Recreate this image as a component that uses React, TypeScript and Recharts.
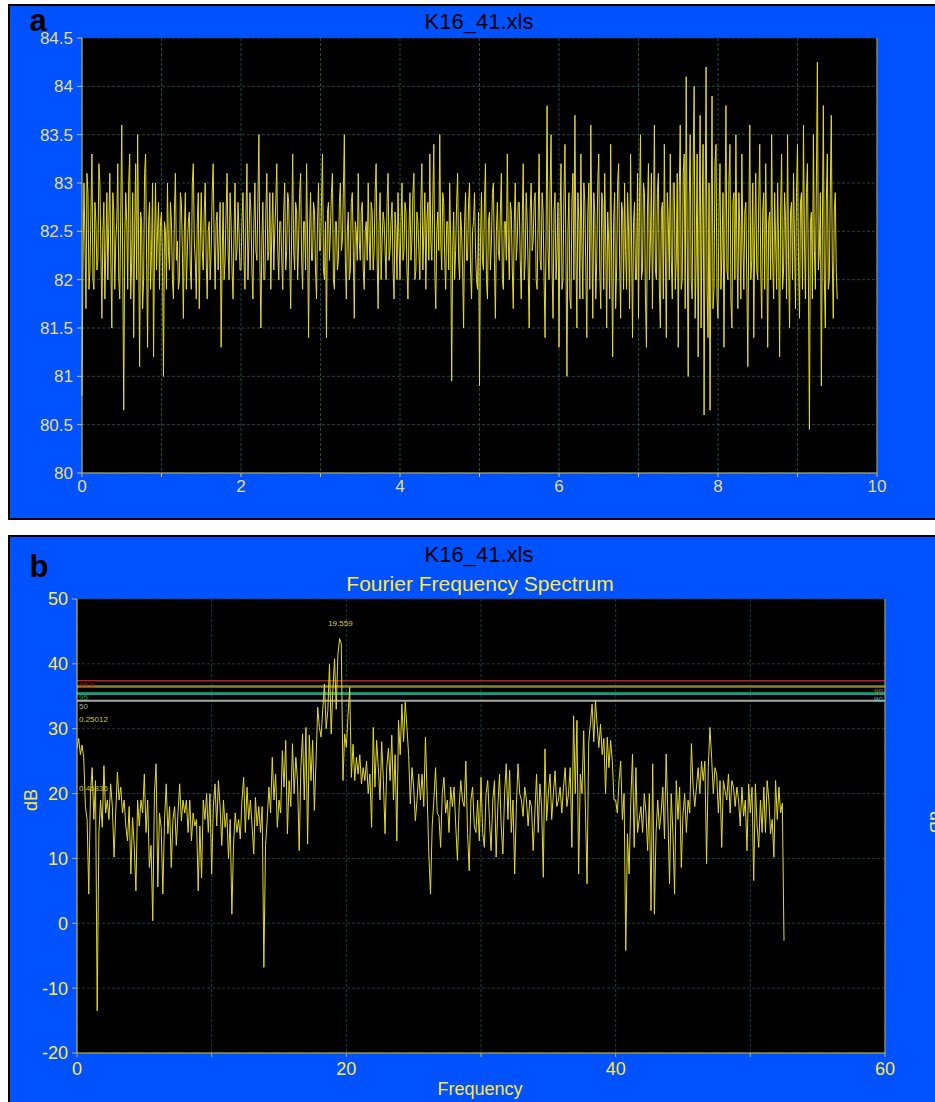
import { LineChart, Line, XAxis, YAxis, CartesianGrid, ReferenceLine, ReferenceDot } from 'recharts';

const FONT = '"Liberation Sans", Arial, sans-serif';
const BLUE = '#0052ff';

// panel a: time series, one sample every 0.0125 s (40 per row = 0.5 s)
const TIME_STEP = 0.0125;
const TIME_VALUES = [
  80.8, 82.2, 83.0, 82.4, 81.7, 83.1, 82.9, 81.9, 82.1, 82.7, 83.3, 82.0, 81.9, 82.8, 82.6, 82.1, 82.2, 83.2, 83.0, 82.3, 81.6, 82.5, 82.8, 81.8, 82.3, 82.9, 82.0, 82.6, 83.1, 82.2, 81.5, 82.9, 82.7, 81.9, 82.4, 82.6, 83.2, 82.0, 81.8, 82.7,
  83.6, 82.1, 80.65, 82.4, 82.9, 82.6, 81.9, 83.0, 83.3, 81.8, 82.2, 82.9, 81.4, 82.5, 83.2, 82.0, 83.5, 82.3, 81.1, 82.7, 82.6, 81.7, 82.0, 83.1, 83.3, 82.2, 81.3, 82.6, 82.8, 81.9, 82.3, 83.0, 81.2, 82.4, 83.0, 82.1, 82.5, 82.8, 81.9, 82.6,
  82.7, 82.2, 81.0, 82.6, 82.5, 81.9, 83.0, 82.3, 82.1, 82.8, 82.6, 82.0, 81.8, 82.7, 83.1, 82.2, 82.4, 81.9, 82.0, 82.9, 82.8, 82.3, 81.6, 82.5, 82.9, 81.9, 82.3, 82.6, 82.7, 82.1, 81.9, 83.0, 83.2, 82.4, 82.2, 81.8, 82.6, 82.9, 81.7, 82.4,
  82.9, 82.3, 82.1, 82.7, 83.0, 82.2, 81.8, 82.5, 82.6, 82.0, 82.3, 82.9, 83.2, 82.4, 81.9, 82.6, 82.7, 82.1, 82.4, 82.8, 81.3, 82.2, 82.8, 82.0, 82.2, 82.7, 83.1, 82.3, 82.0, 82.9, 82.6, 82.1, 81.8, 82.5, 83.0, 82.2, 82.3, 82.8, 82.5, 82.1,
  82.1, 82.6, 82.9, 82.2, 81.9, 82.7, 83.2, 82.0, 82.4, 82.9, 82.7, 82.1, 81.8, 82.6, 83.0, 82.3, 82.2, 82.8, 83.5, 82.2, 81.5, 82.4, 82.8, 82.0, 82.0, 82.7, 83.1, 82.2, 82.3, 82.9, 81.9, 82.5, 82.9, 82.1, 82.5, 82.8, 83.2, 82.3, 82.0, 82.6,
  82.6, 82.2, 81.9, 82.7, 83.0, 82.1, 82.3, 82.9, 82.8, 82.2, 81.7, 82.5, 83.3, 82.3, 82.1, 82.8, 82.7, 82.0, 82.4, 82.9, 83.1, 82.2, 81.9, 82.6, 82.6, 82.1, 83.2, 82.4, 81.4, 82.5, 82.9, 82.2, 82.2, 82.8, 82.7, 82.1, 81.8, 82.6, 83.0, 82.3,
  82.3, 82.8, 83.3, 82.1, 82.0, 82.6, 81.4, 82.7, 82.8, 82.2, 82.5, 82.9, 83.1, 82.0, 81.9, 82.6, 82.6, 82.1, 82.2, 82.8, 83.0, 82.3, 82.4, 82.9, 83.5, 82.2, 81.8, 82.5, 82.7, 82.0, 82.1, 82.8, 82.9, 82.3, 81.6, 82.6, 82.5, 82.2, 83.1, 82.4,
  82.2, 82.7, 82.8, 82.1, 81.9, 82.5, 82.6, 82.2, 83.0, 82.4, 82.1, 82.8, 82.7, 82.1, 82.3, 82.9, 83.2, 82.2, 81.7, 82.6, 82.9, 82.0, 82.4, 82.7, 82.6, 82.3, 82.0, 82.8, 83.1, 82.2, 82.3, 82.6, 82.8, 82.1, 81.8, 82.7, 82.5, 82.0, 82.9, 82.4,
  82.0, 82.6, 83.0, 82.2, 82.3, 82.8, 82.7, 82.1, 81.8, 82.5, 82.9, 82.2, 82.4, 82.9, 83.1, 82.0, 82.1, 82.7, 82.6, 82.3, 82.0, 82.8, 83.2, 82.1, 82.5, 82.9, 81.9, 82.6, 82.8, 82.2, 83.3, 82.4, 82.2, 82.8, 83.4, 82.1, 81.7, 82.5, 82.7, 82.3,
  83.5, 82.4, 82.1, 82.9, 82.8, 82.2, 81.9, 82.6, 82.6, 82.1, 83.0, 82.4, 80.95, 82.3, 82.7, 82.0, 82.3, 82.8, 83.1, 82.2, 82.0, 82.7, 82.5, 82.1, 81.5, 82.6, 82.9, 82.2, 82.2, 82.8, 83.0, 82.1, 81.8, 82.5, 82.6, 82.9, 82.3, 82.0, 81.9, 82.7,
  80.9, 82.4, 82.9, 82.2, 82.1, 82.8, 83.2, 82.0, 81.8, 82.6, 82.7, 82.1, 82.4, 82.9, 83.0, 82.2, 81.6, 82.5, 82.8, 82.3, 82.2, 82.7, 83.1, 82.0, 81.9, 82.6, 82.6, 82.2, 83.3, 82.4, 82.0, 82.8, 82.7, 82.1, 81.7, 82.6, 83.0, 82.2, 82.4, 82.8,
  82.8, 82.2, 81.8, 82.6, 83.2, 82.0, 82.2, 82.9, 82.6, 82.1, 81.5, 82.7, 83.0, 82.3, 82.4, 82.8, 82.9, 82.0, 81.9, 82.6, 83.3, 82.2, 82.1, 82.9, 82.7, 82.0, 81.4, 82.5, 83.8, 82.3, 82.0, 82.9, 83.5, 82.1, 81.6, 82.7, 82.9, 82.0, 82.3, 82.8,
  81.3, 82.6, 83.2, 81.9, 82.0, 82.9, 83.4, 82.2, 81.0, 82.5, 82.9, 81.8, 81.7, 82.8, 83.1, 82.0, 83.7, 82.3, 81.5, 82.9, 82.6, 81.8, 83.3, 82.4, 81.8, 83.0, 82.8, 82.1, 81.4, 82.7, 83.0, 81.9, 83.6, 82.5, 81.6, 82.9, 82.7, 81.8, 82.2, 83.0,
  83.3, 82.1, 81.7, 82.9, 82.8, 81.9, 83.1, 82.4, 81.5, 82.7, 82.4, 81.8, 83.4, 82.2, 81.2, 82.6, 82.9, 81.7, 82.1, 83.0, 83.2, 82.2, 81.6, 82.8, 82.7, 81.9, 83.0, 82.3, 81.9, 82.9, 82.5, 81.7, 83.3, 82.4, 81.4, 82.6, 82.8, 82.0, 82.0, 83.1,
  81.6, 82.8, 83.5, 82.0, 82.1, 83.0, 82.9, 81.8, 81.3, 82.7, 83.2, 82.0, 82.4, 83.1, 81.7, 82.6, 83.6, 82.1, 82.0, 82.9, 83.1, 81.9, 81.5, 82.7, 82.8, 81.8, 83.4, 82.3, 81.4, 82.9, 82.6, 82.0, 83.3, 82.2, 81.8, 83.0, 83.0, 81.9, 82.2, 83.1,
  81.3, 82.9, 83.6, 81.9, 82.0, 83.1, 83.3, 81.7, 84.1, 82.4, 81.0, 82.8, 83.5, 82.0, 81.8, 83.2, 84.0, 81.6, 82.2, 83.3, 81.2, 82.6, 83.7, 81.5, 82.6, 83.4, 80.6, 82.7, 84.2, 81.9, 81.4, 83.0, 80.65, 82.5, 83.9, 81.7, 81.9, 83.2, 83.4, 81.8,
  81.6, 82.7, 83.2, 81.9, 82.3, 82.9, 81.3, 82.6, 83.8, 82.1, 82.0, 83.0, 83.4, 81.8, 81.5, 82.8, 82.9, 82.0, 83.5, 82.3, 81.7, 82.9, 82.5, 81.8, 83.3, 82.4, 81.9, 82.7, 82.8, 82.0, 81.1, 82.6, 83.6, 82.0, 82.2, 83.0, 81.4, 82.5, 83.1, 82.1,
  82.0, 82.8, 83.4, 82.1, 81.6, 82.7, 82.9, 81.9, 83.2, 82.4, 81.3, 82.6, 82.7, 82.0, 83.5, 82.2, 81.8, 82.9, 82.4, 81.9, 83.0, 82.3, 81.2, 82.7, 83.3, 81.9, 82.1, 82.9, 82.6, 81.8, 83.5, 82.2, 81.5, 82.7, 82.8, 82.0, 83.1, 82.4, 81.7, 82.9,
  83.4, 82.2, 81.6, 82.8, 82.9, 81.9, 83.6, 82.4, 81.8, 82.9, 83.2, 82.0, 80.45, 82.6, 82.7, 81.8, 83.5, 82.3, 81.9, 83.0, 84.25, 82.1, 82.3, 82.9, 80.9, 82.5, 83.8, 82.0, 81.5, 82.8, 83.3, 81.9, 82.0, 82.9, 83.7, 82.2, 81.6, 82.7, 82.9, 82.1,
  81.8,
];
const TIME_X_TICKS = [0, 1, 2, 3, 4, 5, 6, 7, 8, 9, 10];
const TIME_Y_TICKS = [80, 80.5, 81, 81.5, 82, 82.5, 83, 83.5, 84, 84.5];

// panel b: spectrum in dB, one bin every 0.125
const FREQ_STEP = 0.125;
const DB_VALUES = [
  27, 28.5, 26, 27.5, 25.5, 18, 16, 4.5,
  20, 24, 16, 22, -13.5, 13.8, 19, 14.8,
  24.3, 17, 19, 16, 21.5, 18, 10.2, 17,
  23.3, 19, 21, 17, 19, 15, 12.7, 18,
  7.6, 16.3, 12, 5, 19, 15, 19, 17,
  23, 14, 19, 8.6, 12, 0.4, 20, 24.6,
  5.6, 17, 14.8, 4.5, 16, 21.5, 13.8, 18,
  8.6, 16, 18, 12, 17, 21.5, 15.8, 19,
  17, 19, 14, 19, 12.7, 17, 15, 16,
  5, 15, 7, 19, 16, 20, 14, 20,
  7.6, 18, 21.5, 15, 22, 18, 12, 19,
  14.8, 17, 10, 16, 1.4, 12.2, 17, 14,
  16, 13, 19, 22.5, 14, 21, 16, 19,
  15, 10.7, 19.4, 15, 18, 14, 18, -6.8,
  12, 16, 21, 17, 25.6, 19, 23, 14.8,
  19, 17, 26.6, 21, 28.2, 13.8, 22, 18,
  27.7, 20, 25.6, 22, 11.2, 24, 29.2, 19,
  30.2, 12.2, 29, 22, 28.2, 17.4, 25, 33.3,
  30.2, 28.7, 33, 36.9, 30, 32.8, 40, 29.2,
  36, 40.8, 33, 41.5, 43.9, 43.1, 22, 29.2,
  27.1, 32, 36.4, 22.5, 27.6, 22, 25.6, 23,
  26, 21.5, 24, 22, 25, 20, 23, 14.8,
  30.2, 21, 28.2, 24, 19, 28, 22, 13.8,
  24, 27, 22, 29, 19, 26, 12.7, 31.3,
  26, 33.8, 28, 34.1, 30.2, 26, 18.4, 24,
  21, 15.8, 19, 23, 19, 23, 18, 28.7,
  20, 10.7, 4.5, 15, 19, 24, 17, 16.5,
  11.7, 20, 22.5, 17, 19, 14, 21, 18,
  21, 15, 9.7, 18, 22, 19, 18, 25,
  14, 8.1, 19, 21, 15, 14, 19, 12.7,
  22.5, 14, 11.7, 20, 22, 16, 11.2, 19,
  22, 10.2, 18, 23, 15, 10.7, 20, 24.6,
  16, 23.6, 14, 19, 7.6, 18, 24.6, 20,
  19, 16.5, 21, 19, 15, 19, 18, 11.2,
  17, 23, 14, 21.5, 18, 7.1, 26.9, 15.8,
  20, 23, 16, 20, 23.5, 18, 19, 21,
  17, 21, 24, 18, 20, 24, 11.7, 32,
  20, 31.3, 7.6, 23, 20, 29.7, 18, 6.1,
  28, 30.7, 33.8, 28, 34.3, 30.5, 27.1, 30.7,
  26, 28.5, 20, 28.7, 24, 28.2, 25, 19,
  19, 17, 22, 25, 16, 20, -4.2, 13.8,
  7.6, 19, 26.1, 11.7, 24, 14, 16, 18,
  14, 20, 17, 11.2, 20, 1.95, 24.6, 1.4,
  14, 19, 14.5, 17, 21, 13, 26.1, 16.8,
  6.1, 20, 14, 4.5, 22, 16, 21, 8.6,
  16.8, 20, 14, 19, 17, 27.7, 21, 18,
  21, 24, 20, 25, 22, 25, 9.2, 24,
  30.2, 25.6, 20, 24, 23, 17, 22, 11.7,
  22, 20.5, 19, 23, 17, 22, 21, 18,
  21, 19, 15, 21, 16.5, 19, 11.2, 21.5,
  17, 21, 6.6, 21.5, 15, 11.7, 19, 14,
  21, 14, 22, 19, 13.8, 16, 10.2, 22,
  16, 21, 17, 18.5, -2.7,
];
const FREQ_X_TICKS = [0, 10, 20, 30, 40, 50, 60];
const DB_Y_TICKS = [-20, -10, 0, 10, 20, 30, 40, 50];

// confidence levels drawn across the spectrum
const LEVEL_NAMES = ['99.9', '99', '95', '90', '50'];
const LEVEL_DB = [37.4, 36.5, 35.6, 35.35, 34.3];
const PEAK_FREQ = 19.559;
const NOTE_LABELS = ['0.25012', '0.46836'];
const NOTE_DB = [31.4, 20.9];

const timeData = TIME_VALUES.map((v, i) => ({ t: +(i * TIME_STEP).toFixed(4), v }));
const freqData = DB_VALUES.map((v, i) => ({ f: +(i * FREQ_STEP).toFixed(3), v }));

const levelColors = ['#b42020', '#8c8424', '#1c9c2a', '#22c4d4', '#a8a8a8'];
const levelWidths = [1.5, 2.5, 1, 1.5, 2];
const levelSides = ['left', 'right', 'left', 'right', 'left'];

const text = (extra: React.CSSProperties): React.CSSProperties => ({
  position: 'absolute',
  fontFamily: FONT,
  lineHeight: 1,
  whiteSpace: 'nowrap',
  transform: 'translate(-50%, -50%)',
  ...extra,
});

function TimePanel() {
  const tickA = '#e6dc78';
  return (
    <LineChart width={935} height={520} data={timeData} margin={{ top: 38, right: 0, bottom: 0, left: 0 }}>
      <CartesianGrid yAxisId="l" fill="#000" stroke="#1b4a4a" strokeDasharray="3 2" />
      <XAxis
        dataKey="t"
        type="number"
        domain={[0, 10]}
        ticks={TIME_X_TICKS}
        interval={0}
        tickFormatter={(v: number) => (v % 2 === 0 ? String(v) : '')}
        height={47}
        axisLine={{ stroke: '#c8c070' }}
        tickLine={{ stroke: '#c8c070' }}
        tickSize={4}
        tickMargin={3}
        tick={{ fill: tickA, fontSize: 17, fontFamily: FONT }}
      />
      <XAxis xAxisId="top" orientation="top" dataKey="t" type="number" domain={[0, 10]} height={0} tick={false} tickLine={false} axisLine={{ stroke: '#9c9c84' }} />
      <YAxis
        yAxisId="l"
        domain={[80, 84.5]}
        ticks={TIME_Y_TICKS}
        interval={0}
        width={82}
        axisLine={{ stroke: '#c8c070' }}
        tickLine={{ stroke: '#c8c070' }}
        tickSize={5}
        tickMargin={4}
        tick={{ fill: tickA, fontSize: 17, fontFamily: FONT }}
      />
      <YAxis
        yAxisId="r"
        orientation="right"
        domain={[80, 84.5]}
        ticks={TIME_Y_TICKS}
        interval={0}
        width={58}
        axisLine={{ stroke: '#a8a890' }}
        tickLine={{ stroke: '#a8a890' }}
        tickSize={5}
        tickMargin={3}
        tick={{ fill: tickA, fontSize: 17, fontFamily: FONT }}
      />
      <Line yAxisId="l" type="linear" dataKey="v" stroke="#e4da2c" strokeWidth={1} dot={false} isAnimationActive={false} />
    </LineChart>
  );
}

function SpectrumPanel() {
  const tickB = '#ffe83c';
  return (
    <LineChart width={935} height={566} data={freqData} margin={{ top: 63, right: 0, bottom: 0, left: 0 }}>
      <CartesianGrid yAxisId="l" fill="#000" stroke="#143f40" strokeDasharray="3 2" />
      <XAxis
        dataKey="f"
        type="number"
        domain={[0, 60]}
        ticks={FREQ_X_TICKS}
        interval={0}
        tickFormatter={(v: number) => (v % 20 === 0 ? String(v) : '')}
        height={49}
        axisLine={{ stroke: '#d0c450' }}
        tickLine={{ stroke: '#b0b090' }}
        tickSize={4}
        tickMargin={5}
        tick={{ fill: tickB, fontSize: 18, fontFamily: FONT }}
      />
      <XAxis xAxisId="top" orientation="top" dataKey="f" type="number" domain={[0, 60]} height={0} tick={false} tickLine={false} axisLine={{ stroke: '#9c9c84' }} />
      <YAxis
        yAxisId="l"
        domain={[-20, 50]}
        ticks={DB_Y_TICKS}
        interval={0}
        width={77}
        axisLine={{ stroke: '#e0d040' }}
        tickLine={{ stroke: '#b0b090' }}
        tickSize={5}
        tickMargin={4}
        tick={{ fill: tickB, fontSize: 18, fontFamily: FONT }}
      />
      <YAxis
        yAxisId="r"
        orientation="right"
        domain={[-20, 50]}
        ticks={DB_Y_TICKS}
        interval={0}
        width={50}
        axisLine={{ stroke: '#b0b090' }}
        tickLine={{ stroke: '#b0b090' }}
        tickSize={5}
        tickMargin={4}
        tick={{ fill: tickB, fontSize: 18, fontFamily: FONT }}
      />
      {LEVEL_DB.map((y, i) => (
        <ReferenceLine
          key={LEVEL_NAMES[i]}
          yAxisId="l"
          y={y}
          stroke={levelColors[i]}
          strokeWidth={levelWidths[i]}
          label={{
            value: LEVEL_NAMES[i],
            position: levelSides[i] === 'left' ? 'insideTopLeft' : 'insideTopRight',
            offset: 2,
            fill: levelColors[i],
            fontSize: 8,
            fontFamily: FONT,
          }}
        />
      ))}
      <Line yAxisId="l" type="linear" dataKey="v" stroke="#e4da2c" strokeWidth={1} dot={false} isAnimationActive={false} />
      <ReferenceDot
        yAxisId="l"
        x={PEAK_FREQ}
        y={46.3}
        r={1}
        fill="none"
        stroke="none"
        label={{ value: String(PEAK_FREQ), position: 'center', fill: '#d8cc40', fontSize: 8, fontFamily: FONT }}
      />
      {NOTE_DB.map((y, i) => (
        <ReferenceDot
          key={NOTE_LABELS[i]}
          yAxisId="l"
          x={0}
          y={y}
          r={1}
          fill="none"
          stroke="none"
          label={{ value: NOTE_LABELS[i], position: 'right', offset: 1, fill: '#d0c43c', fontSize: 8, fontFamily: FONT }}
        />
      ))}
    </LineChart>
  );
}

export default function App() {
  return (
    <div style={{ position: 'absolute', left: 0, top: 0, width: 935, height: 1102, overflow: 'hidden', background: '#fff' }}>
      <div style={{ position: 'absolute', left: 8, top: 4, width: 940, height: 516, background: BLUE, border: '2px solid #000', boxSizing: 'border-box' }} />
      <div style={{ position: 'absolute', left: 8, top: 535, width: 940, height: 590, background: BLUE, border: '2px solid #000', boxSizing: 'border-box' }} />

      <div style={{ position: 'absolute', left: 0, top: 0 }}>
        <TimePanel />
      </div>
      <div style={{ position: 'absolute', left: 0, top: 536 }}>
        <SpectrumPanel />
      </div>

      <div style={text({ left: 38, top: 20, fontSize: 31, fontWeight: 'bold', color: '#000' })}>a</div>
      <div style={text({ left: 479, top: 22, fontSize: 22, color: '#000' })}>K16_41.xls</div>

      <div style={text({ left: 39, top: 566, fontSize: 31, fontWeight: 'bold', color: '#000' })}>b</div>
      <div style={text({ left: 479, top: 555, fontSize: 22, color: '#000' })}>K16_41.xls</div>
      <div style={text({ left: 480, top: 583, fontSize: 21, color: '#ffe83c' })}>Fourier Frequency Spectrum</div>
      <div style={text({ left: 480, top: 1089, fontSize: 18, color: '#ffe83c' })}>Frequency</div>
      <div style={text({ left: 31, top: 800, fontSize: 18, color: '#ffe83c', transform: 'translate(-50%, -50%) rotate(-90deg)' })}>dB</div>
      <div style={text({ left: 936, top: 822, fontSize: 18, color: '#ffe83c', transform: 'translate(-50%, -50%) rotate(90deg)' })}>dB</div>
    </div>
  );
}
